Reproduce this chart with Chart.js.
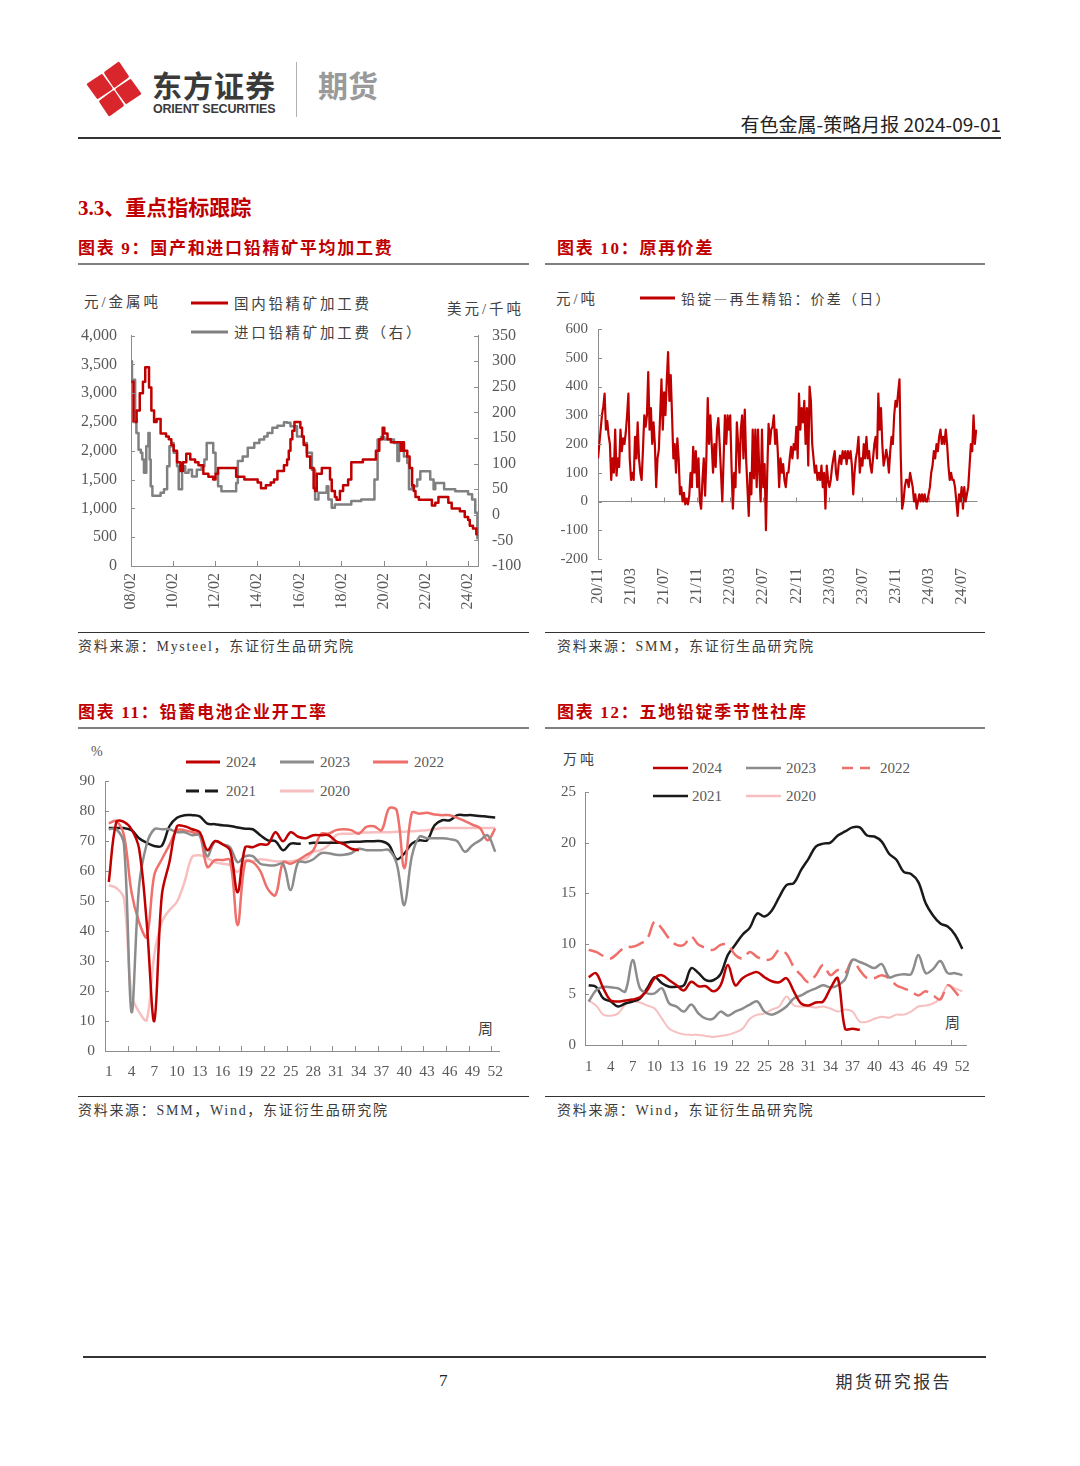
<!DOCTYPE html>
<html lang="zh-CN">
<head>
<meta charset="utf-8">
<title>有色金属-策略月报</title>
<script src="https://cdn.jsdelivr.net/npm/chart.js@4.4.1/dist/chart.umd.min.js"></script>
<style>
  html, body { margin: 0; padding: 0; background: #fff; }
  #page { position: relative; width: 1080px; height: 1466px; overflow: hidden; font-family: "Noto Sans CJK SC", sans-serif; color: #333; }
  #page .t { position: absolute; white-space: nowrap; line-height: 1; }
  #page .hr { position: absolute; height: 0; }
  #page canvas { position: absolute; }
  #page svg { position: absolute; overflow: visible; }
  .red { color: #c00000; font-weight: 700; }
  .ttl { font-family: "Liberation Serif", "Noto Sans CJK SC", serif; font-size: 17px; letter-spacing: 1.7px; }
  .src { font-family: "Liberation Serif", "Noto Sans CJK SC", serif; font-size: 14px; letter-spacing: 1.7px; color: #3a3a3a; }
  .unit { font-family: "Liberation Serif", "Noto Sans CJK SC", serif; font-size: 14.5px; letter-spacing: 3px; color: #404040; }
  .lgc { font-size: 14.5px; letter-spacing: 2.7px; color: #404040; }
  .lgn { font-family: "Liberation Serif", serif; font-size: 15px; color: #595959; }
</style>
</head>
<body>
<div id="page">
  <!-- header -->
  <svg style="left:84px;top:56px" width="62" height="66" viewBox="0 0 62 66">
    <g transform="translate(30,33) rotate(10)" fill="#d9262c" stroke="#d9262c" stroke-width="3" stroke-linejoin="round">
      <polygon points="0,-26 11,-14.5 0,-3 -11,-14.5"/>
      <polygon points="-14.5,-11 -3,0 -14.5,11 -26,0"/>
      <polygon points="14.5,-11 26,0 14.5,11 3,0"/>
      <polygon points="0,3 11,14.5 0,26 -11,14.5"/>
    </g>
  </svg>
  <div class="t" style="left:152px;top:69px;font-size:30px;font-weight:700;color:#3a3a3a;letter-spacing:1px">东方证券</div>
  <div class="t" style="left:153px;top:103px;font-family:'Liberation Sans',sans-serif;font-size:12.5px;font-weight:700;color:#3a3a3a;letter-spacing:-0.2px">ORIENT SECURITIES</div>
  <div class="hr" style="left:296px;top:62px;width:0;height:55px;border-left:1px solid #b0b0b0"></div>
  <div class="t" style="left:318px;top:69px;font-size:30px;font-weight:700;color:#9a9a9a">期货</div>
  <div class="t" style="right:79px;top:114px;font-size:19px;color:#222">有色金属-策略月报 2024-09-01</div>
  <div class="hr" style="left:78px;top:137px;width:923px;border-top:2px solid #333"></div>

  <div class="t red" style="left:78px;top:198px;font-size:21px;font-family:'Liberation Serif','Noto Sans CJK SC',serif">3.3、重点指标跟踪</div>

  <!-- titles row 1 -->
  <div class="t red ttl" style="left:78px;top:240px">图表 9：国产和进口铅精矿平均加工费</div>
  <div class="t red ttl" style="left:557px;top:240px">图表 10：原再价差</div>
  <div class="hr" style="left:78px;top:263px;width:451px;border-top:2px solid #808080"></div>
  <div class="hr" style="left:545px;top:263px;width:440px;border-top:2px solid #808080"></div>

  <!-- chart 9 legend -->
  <div class="t unit" style="left:84px;top:295px">元/金属吨</div>
  <div class="t lgc" style="left:234px;top:296px">国内铅精矿加工费</div>
  <div class="t lgc" style="left:234px;top:325px">进口铅精矿加工费（右）</div>
  <div class="t unit" style="left:447px;top:302px">美元/千吨</div>

  <!-- chart 10 legend -->
  <div class="t unit" style="left:556px;top:292px">元/吨</div>
  <div class="t lgc" style="left:681px;top:291px;font-size:14px;letter-spacing:2.2px">铅锭—再生精铅：价差（日）</div>

  <canvas id="c9" width="470" height="308" style="left:70px;top:312px"></canvas>
  <canvas id="c10" width="445" height="305" style="left:545px;top:310px"></canvas>

  <div class="hr" style="left:78px;top:632px;width:451px;border-top:1px solid #333"></div>
  <div class="hr" style="left:545px;top:632px;width:440px;border-top:1px solid #333"></div>
  <div class="t src" style="left:78px;top:640px">资料来源：Mysteel，东证衍生品研究院</div>
  <div class="t src" style="left:557px;top:640px">资料来源：SMM，东证衍生品研究院</div>

  <!-- titles row 2 -->
  <div class="t red ttl" style="left:78px;top:704px">图表 11：铅蓄电池企业开工率</div>
  <div class="t red ttl" style="left:557px;top:704px">图表 12：五地铅锭季节性社库</div>
  <div class="hr" style="left:78px;top:727px;width:451px;border-top:2px solid #808080"></div>
  <div class="hr" style="left:545px;top:727px;width:440px;border-top:2px solid #808080"></div>

  <!-- chart 11 legend -->
  <div class="t lgn" style="left:91px;top:745px;font-size:14px">%</div>
  <div class="t lgn" style="left:226px;top:755px">2024</div>
  <div class="t lgn" style="left:320px;top:755px">2023</div>
  <div class="t lgn" style="left:414px;top:755px">2022</div>
  <div class="t lgn" style="left:226px;top:784px">2021</div>
  <div class="t lgn" style="left:320px;top:784px">2020</div>
  <div class="t lgc" style="left:478px;top:1020px;font-size:15px">周</div>

  <!-- chart 12 legend -->
  <div class="t unit" style="left:563px;top:753px;font-size:14px">万吨</div>
  <div class="t lgn" style="left:692px;top:761px">2024</div>
  <div class="t lgn" style="left:786px;top:761px">2023</div>
  <div class="t lgn" style="left:880px;top:761px">2022</div>
  <div class="t lgn" style="left:692px;top:789px">2021</div>
  <div class="t lgn" style="left:786px;top:789px">2020</div>
  <div class="t lgc" style="left:945px;top:1014px;font-size:15px">周</div>

  <canvas id="c11" width="465" height="328" style="left:70px;top:762px"></canvas>
  <canvas id="c12" width="445" height="306" style="left:545px;top:774px"></canvas>

  <div class="hr" style="left:78px;top:1096px;width:451px;border-top:1px solid #333"></div>
  <div class="hr" style="left:545px;top:1096px;width:440px;border-top:1px solid #333"></div>
  <div class="t src" style="left:78px;top:1104px">资料来源：SMM，Wind，东证衍生品研究院</div>
  <div class="t src" style="left:557px;top:1104px">资料来源：Wind，东证衍生品研究院</div>

  <!-- footer -->
  <div class="hr" style="left:83px;top:1356px;width:903px;border-top:2px solid #333"></div>
  <div class="t" style="left:439px;top:1372px;font-size:17px;font-family:'Liberation Serif',serif;color:#222">7</div>
  <div class="t" style="right:128px;top:1372px;font-size:17px;letter-spacing:2.4px;color:#333">期货研究报告</div>
</div>

<script>
// ---------- data ----------
// Chart 9: processing fees, stepped series (decimal year of each change, value)
const feeTickLabels = ['08/02', '10/02', '12/02', '14/02', '16/02', '18/02', '20/02', '22/02', '24/02'];
const feeTickYears = [2008, 2010, 2012, 2014, 2016, 2018, 2020, 2022, 2024];

const domYear = [2008.10, 2008.20, 2008.35, 2008.50, 2008.65, 2008.76, 2008.94, 2009.05, 2009.18, 2009.30,
  2009.49, 2009.75, 2009.88, 2010.00, 2010.11, 2010.27, 2010.43, 2010.55, 2010.71, 2010.90,
  2011.13, 2011.29, 2011.52, 2011.76, 2011.99, 2012.10, 2012.22, 2013.08, 2013.47, 2013.71,
  2014.10, 2014.26, 2014.49, 2014.72, 2014.88, 2015.04, 2015.35, 2015.50, 2015.58, 2015.66,
  2015.75, 2015.85, 2016.13, 2016.21, 2016.29, 2016.44, 2016.60, 2016.76, 2016.83, 2016.91,
  2017.15, 2017.54, 2017.62, 2017.77, 2017.85, 2018.01, 2018.16, 2018.40, 2018.55, 2019.10,
  2019.72, 2019.88, 2020.04, 2020.12, 2020.27, 2020.43, 2020.90, 2020.97, 2021.05, 2021.21,
  2021.32, 2021.44, 2021.52, 2021.60, 2021.76, 2022.38, 2022.54, 2022.69, 2023.16, 2023.32,
  2023.71, 2023.94, 2024.10, 2024.18, 2024.33, 2024.49, 2024.55];
const domFee = [3200, 2500, 2700, 3000, 3200, 3450, 3100, 2700, 2500, 2550,
  2300, 2250, 2200, 2100, 2000, 1800, 1650, 1800, 1950, 1850,
  1800, 1750, 1600, 1550, 1500, 1600, 1700, 1550, 1500, 1500,
  1450, 1350, 1400, 1450, 1500, 1650, 1750, 1850, 2000, 2200,
  2350, 2500, 2400, 2250, 2100, 1900, 1700, 1350, 1300, 1600,
  1700, 1500, 1300, 1200, 1150, 1300, 1400, 1500, 1800, 1850,
  2000, 2200, 2400, 2300, 2200, 2150, 2000, 2150, 2000, 1900,
  1700, 1400, 1300, 1200, 1150, 1050, 1100, 1200, 1100, 1000,
  950, 850, 800, 700, 650, 550, 550];

const impYear = [2008.08, 2008.13, 2008.28, 2008.34, 2008.44, 2008.55, 2008.62, 2008.70, 2008.81, 2008.91,
  2008.97, 2009.02, 2009.10, 2009.49, 2009.65, 2009.80, 2009.91, 2010.04, 2010.11, 2010.27,
  2010.35, 2010.51, 2010.66, 2010.82, 2010.98, 2011.21, 2011.44, 2011.57, 2011.68, 2011.99,
  2012.10, 2012.22, 2012.38, 2013.08, 2013.16, 2013.39, 2013.63, 2013.94, 2014.18, 2014.41,
  2014.57, 2014.80, 2015.04, 2015.35, 2015.50, 2015.66, 2015.97, 2016.29, 2016.44, 2016.68,
  2016.83, 2016.99, 2017.38, 2017.46, 2017.62, 2017.77, 2018.55, 2019.02, 2019.65, 2019.80,
  2019.96, 2020.12, 2020.58, 2020.74, 2020.82, 2021.05, 2021.21, 2021.29, 2021.44, 2021.68,
  2021.83, 2022.30, 2022.46, 2022.54, 2022.96, 2023.49, 2024.10, 2024.29, 2024.44, 2024.54];
const impFee = [300, 264, 186, 160, 127, 121, 108, 82, 134, 160,
  108, 56, 37, 43, 50, 95, 134, 140, 121, 95,
  50, 95, 82, 88, 75, 88, 95, 108, 140, 121,
  82, 56, 46, 62, 105, 114, 131, 140, 147, 153,
  160, 170, 174, 181, 180, 173, 153, 140, 121, 88,
  30, 43, 56, 30, 14, 20, 27, 30, 69, 147,
  152, 147, 140, 105, 140, 114, 101, 50, 56, 69,
  85, 69, 50, 62, 50, 46, 40, 30, 4, -48];

// Chart 10: daily spread, samples evenly spaced (25 per 4-month tick)
const spreadTickLabels = ['20/11', '21/03', '21/07', '21/11', '22/03', '22/07', '22/11', '23/03', '23/07', '23/11', '24/03', '24/07'];
const spreadValues = [
  150, 200, 250, 300, 330, 375, 250, 280, 230, 200, 75, 150, 100, 250, 90, 150, 120, 250, 175, 220, 200, 240, 300, 375, 150,
  75, 100, 75, 225, 150, 275, 150, 100, 75, 180, 300, 260, 300, 450, 250, 325, 200, 275, 200, 50, 150, 180, 300, 425, 250,
  380, 300, 420, 520, 350, 440, 300, 150, 200, 100, 220, 150, 25, 50, 0, 30, -10, 10, -10, 20, 100, 50, 190, 100, 175,
  50, 150, 0, -25, 75, 150, 20, 160, 360, 200, 300, 200, 100, 200, 120, 250, 290, 200, 100, 0, 150, 300, 200, 300, 250,
  300, 120, -25, 100, 50, 275, 200, 100, 250, 300, 150, 320, 150, 50, -50, 100, 25, 250, 80, 250, 50, 250, 100, 0, 250,
  50, 130, -100, 100, 270, 200, 250, 260, 300, 200, 250, 170, 50, 150, 100, 130, 75, 50, 100, 100, 150, 190, 150, 200, 180,
  260, 150, 375, 250, 325, 275, 350, 200, 325, 125, 400, 350, 200, 150, 100, 125, 75, 100, 75, 125, 50, 100, -25, 125, 75,
  50, 75, 120, 150, 175, 100, 75, 130, 160, 130, 175, 150, 175, 130, 175, 150, 175, 125, 25, 100, 150, 175, 225, 100, 150,
  125, 200, 150, 225, 150, 175, 125, 100, 150, 200, 225, 150, 375, 250, 325, 200, 125, 150, 180, 150, 100, 175, 225, 200, 300,
  350, 330, 380, 425, 150, -25, 0, 50, 75, 75, 50, 100, 75, 50, 0, 25, -25, 0, 25, 0, 25, 0, 25, 0, 0,
  25, 50, 100, 125, 175, 150, 200, 175, 225, 250, 200, 225, 200, 250, 200, 125, 75, 100, 75, 75, 50, 0, -50, 25, 0,
  50, -25, 50, 0, 25, 50, 125, 200, 175, 300, 200, 250
];

// Charts 11 & 12: weekly seasonal series
const weeks = Array.from({ length: 52 }, (_, i) => String(i + 1));

const rate2024 = [56.4, 76.5, 76.5, 74, 67.5, 43, 10, 52, 63, 75, 75, 74, 73, 67, 70, 69, 67, 53, 68, 68,
  69, 69, 73, 70, 73, 71.5, 71, 72, 72, 72, 70, 69, 67.5, 67];
const rate2023 = [74, 74, 69, 13, 55, 69, 74, 74, 74, 73, 73, 72, 72, 65, 70, 69, 68, 63, 65, 65,
  62.5, 62, 62, 62.5, 53.7, 63, 63, 64, 66, 66, 65.5, 65.5, 66, 67.5, 67, 67, 67, 67, 62.5, 48.7,
  65, 71.5, 71, 71, 71, 70.7, 70, 66.5, 68.7, 70.3, 72, 66.5];
const rate2022 = [76, 76.7, 72, 53, 43, 38, 58.7, 64, 68.7, 73.7, 73.7, 73, 72, 61.4, 63.7, 63.7, 63.7, 42, 63, 63,
  60, 54, 52, 63, 62.5, 63.7, 65.3, 67, 72.5, 72.5, 73.7, 74, 73.7, 72.5, 74.8, 75, 73.7, 81, 80.3, 61,
  79.5, 79.2, 79.5, 78.9, 78.7, 78.7, 77.8, 76.7, 75.5, 74.4, 70.3, 74.2];
const rate2021 = [74.4, 74.4, 74.4, 73.7, 71, 69.5, 68.4, 68.5, 75, 77.8, 78.7, 78.7, 78.3, 75.9, 75.7, 75.3, 75.1, 74.6, 74.2, 74,
  72, 70.3, 70, 67, 69.2, 69.2, 69.2, 69.5, 69.5, 69.5, 69.5, 69.5, 69.8, 69.8, 70, 70, 70, 68.7, 64, 65.9,
  69.2, 70.3, 70.3, 75.3, 77, 77, 78.7, 78.7, 78.7, 78.4, 78.2, 77.9];
const rate2020 = [55.3, 54.4, 51, 18.7, 13, 10.3, 32, 43, 47, 49.8, 56.4, 64.8, 65.3, 64.4, 63, 62.5, 62, 59.8, 63.7, 63.3,
  64, 63.7, 63.3, 63.3, 63.3, 63.7, 64.2, 66.4, 67, 68.7, 72, 72.5, 72.5, 72.9, 72.9, 73, 73, 73, 73.2, 73.2,
  73.3, 73.5, 73.7, 74, 74.4, 74.4, 74.4, 74.4, 74.4, 74.4, 74.4, 74.4];

const stock2024 = [6.7, 7.1, 5.6, 4.4, 4.3, 4.4, 4.5, 4.7, 5.4, 6.6, 6.9, 6.4, 5.9, 5.4, 6.25, 5.8, 5.8, 5.3, 5.9, 7.9,
  5.9, 6.6, 7.0, 7.2, 6.7, 6.3, 6.2, 6.6, 5.3, 4.1, 3.9, 4.2, 4.3, 5.6, 6.6, 1.6, 1.6, 1.5];
const stock2023 = [4.3, 5.4, 5.75, 5.7, 5.6, 5.3, 8.4, 5.6, 5.1, 5.1, 5.6, 4.1, 3.8, 3.3, 4.0, 3.1, 2.6, 2.6, 3.3, 2.9,
  3.3, 3.6, 4.0, 4.3, 3.3, 3.0, 3.3, 3.8, 4.6, 4.9, 5.3, 5.6, 5.9, 5.7, 5.9, 6.5, 8.4, 8.2, 7.9, 7.6,
  8.0, 6.7, 6.9, 7.0, 7.0, 8.9, 7.1, 7.5, 8.3, 7.1, 7.1, 6.9];
const stock2022 = [9.4, 9.2, 8.8, 8.55, 9.1, 9.7, 9.7, 10.0, 10.5, 12.2, 11.5, 10.5, 9.9, 9.9, 10.7, 9.9, 9.6, 9.4, 9.9, 9.9,
  8.9, 8.55, 9.2, 8.7, 8.4, 8.55, 9.4, 9.0, 7.7, 6.9, 6.2, 6.9, 7.9, 6.9, 7.4, 7.1, 8.4, 7.4, 6.6, 6.6,
  6.9, 6.6, 5.9, 5.6, 5.3, 4.9, 5.3, 4.9, 4.5, 5.9, 5.3, 4.3];
const stock2021 = [5.9, 5.75, 4.6, 4.3, 3.8, 4.1, 4.3, 4.6, 5.6, 6.7, 6.1, 5.75, 5.75, 5.9, 7.6, 7.1, 6.4, 6.4, 7.0, 8.9,
  9.9, 10.9, 11.6, 13.0, 12.7, 13.3, 14.6, 15.8, 16.0, 17.3, 18.4, 19.6, 19.9, 20.0, 20.7, 21.1, 21.5, 21.5, 20.7, 20.6,
  20.1, 18.9, 18.3, 17.1, 16.9, 16.1, 14.0, 12.8, 12.0, 11.7, 10.9, 9.5];
const stock2020 = [4.4, 3.9, 3.0, 2.9, 3.1, 4.0, 4.3, 4.2, 3.9, 3.6, 2.6, 1.6, 1.25, 1.05, 1.0, 1.0, 0.9, 0.8, 0.9, 1.0,
  1.25, 1.6, 2.6, 3.0, 3.1, 3.5, 3.8, 4.8, 3.9, 3.8, 3.8, 3.7, 3.8, 3.6, 3.3, 3.5, 3.3, 2.3, 2.3, 2.6,
  2.8, 2.7, 3.0, 3.0, 3.3, 3.8, 3.9, 4.1, 4.6, 5.9, 5.6, 5.3];

// ---------- styles ----------
const RED = '#c00000', GRAY = '#8c8c8c', SALMON = '#ef6f6b', BLACK = '#1a1a1a', PINK = '#f7bfbf';
const AXIS = '#8c8c8c', TICK = '#595959';
const SERIF = '"Liberation Serif", "DejaVu Serif", serif';

// inside tick marks per canvas, placed through each chart's own scales
const marksFor = {
  c9: [{ axis: 'x', len: 5, at: feeTickYears.slice(1).map(y => y + 1 / 12) }, { axis: 'y', len: 4 }, { axis: 'y1', len: 4 }],
  c10: [{ axis: 'x', len: 5, zero: true, at: spreadTickLabels.slice(1).map((_, k) => (k + 1) * 25) }, { axis: 'y', len: 4 }],
  c11: [{ axis: 'x', len: 5, at: Array.from({ length: 17 }, (_, k) => 2.5 + 3 * k) }, { axis: 'y', len: 4 }],
  c12: [{ axis: 'x', len: 5, at: Array.from({ length: 10 }, (_, k) => 4.5 + 5 * k) }, { axis: 'y', len: 4 }]
};
const tickMarks = {
  id: 'tickMarks',
  afterDraw(chart) {
    const marks = marksFor[chart.canvas.id];
    if (!marks) return;
    const { ctx, chartArea: a } = chart;
    ctx.save();
    ctx.strokeStyle = AXIS;
    ctx.lineWidth = 1;
    marks.forEach(m => {
      const s = chart.scales[m.axis];
      const vals = m.at ? m.at : s.ticks.map(t => t.value);
      vals.forEach(v => {
        const p = Math.round(s.getPixelForValue(v)) + 0.5;
        ctx.beginPath();
        if (s.isHorizontal()) {
          const base = m.zero ? Math.round(chart.scales.y.getPixelForValue(0)) + 0.5 : a.bottom;
          ctx.moveTo(p, base); ctx.lineTo(p, base - m.len);
        } else if (s.position === 'right') {
          ctx.moveTo(a.right, p); ctx.lineTo(a.right - m.len, p);
        } else {
          ctx.moveTo(a.left, p); ctx.lineTo(a.left + m.len, p);
        }
        ctx.stroke();
      });
    });
    ctx.restore();
  }
};
Chart.register(tickMarks);

// legend swatches drawn as small svg lines
function swatch(x1, x2, y, color, dash, w) {
  const ns = 'http://www.w3.org/2000/svg';
  const svg = document.createElementNS(ns, 'svg');
  svg.setAttribute('width', x2 - x1);
  svg.setAttribute('height', 6);
  svg.style.left = x1 + 'px';
  svg.style.top = (y - 3) + 'px';
  const ln = document.createElementNS(ns, 'line');
  ln.setAttribute('x1', 0); ln.setAttribute('x2', x2 - x1);
  ln.setAttribute('y1', 3); ln.setAttribute('y2', 3);
  ln.setAttribute('stroke', color);
  ln.setAttribute('stroke-width', w || 3);
  if (dash) ln.setAttribute('stroke-dasharray', dash);
  svg.appendChild(ln);
  document.getElementById('page').appendChild(svg);
}
swatch(191, 228, 303, RED); swatch(191, 228, 332, '#808080');
swatch(640, 675, 298, RED);
swatch(186, 220, 762, RED); swatch(280, 314, 762, GRAY); swatch(373, 408, 762, SALMON);
swatch(186, 220, 791, BLACK, '13 6'); swatch(280, 314, 791, PINK);
swatch(653, 688, 768, RED, null, 2.5); swatch(746, 781, 768, GRAY, null, 2.5); swatch(842, 870, 768, SALMON, '11 7', 2.5);
swatch(653, 688, 796, BLACK, null, 2.5); swatch(746, 781, 796, PINK, null, 2.5);

const base = {
  responsive: false, animation: false, devicePixelRatio: 1, events: [],
  elements: { point: { radius: 0 }, line: { borderJoinStyle: 'round' } }
};
const hidden = { legend: { display: false }, tooltip: { enabled: false } };
const axisLine = { display: true, color: AXIS, width: 1 };
const noGrid = { display: true, drawOnChartArea: false, drawTicks: false };
const pairs = (xs, ys) => xs.map((x, i) => ({ x, y: ys[i] }));

// ---------- chart 9 ----------
new Chart(document.getElementById('c9'), {
  type: 'line',
  data: {
    datasets: [
      { data: pairs(domYear, domFee), borderColor: RED, borderWidth: 2.5, stepped: true, yAxisID: 'y' },
      { data: pairs(impYear, impFee), borderColor: '#808080', borderWidth: 2.5, stepped: true, yAxisID: 'y1' }
    ]
  },
  options: {
    ...base,
    layout: { padding: { top: 16 } },
    plugins: hidden,
    scales: {
      x: {
        type: 'linear', min: 2008 + 1 / 12, max: 2024.57,
        afterBuildTicks: s => { s.ticks = feeTickYears.map(y => ({ value: y + 1 / 12 })); },
        ticks: { callback: (v, i) => feeTickLabels[i], minRotation: 90, maxRotation: 90, padding: 7, color: TICK, font: { family: SERIF, size: 16 } },
        grid: noGrid, border: axisLine,
        afterFit: s => { s.height = 54; }
      },
      y: {
        min: 0, max: 4000,
        ticks: { stepSize: 500, padding: 14, color: TICK, font: { family: SERIF, size: 16 } },
        grid: noGrid, border: axisLine,
        afterFit: s => { s.width = 61; }
      },
      y1: {
        position: 'right', min: -100, max: 350,
        ticks: { stepSize: 50, padding: 14, color: TICK, font: { family: SERIF, size: 16 } },
        grid: noGrid, border: axisLine,
        afterFit: s => { s.width = 62; }
      }
    }
  }
});

// ---------- chart 10 ----------
new Chart(document.getElementById('c10'), {
  type: 'line',
  data: { datasets: [{ data: spreadValues.map((v, i) => ({ x: i, y: v })), borderColor: RED, borderWidth: 2.2, tension: 0 }] },
  options: {
    ...base,
    layout: { padding: { top: 9, right: 4 } },
    plugins: hidden,
    scales: {
      x: {
        type: 'linear', min: 0, max: spreadValues.length,
        afterBuildTicks: s => { s.ticks = spreadTickLabels.map((_, k) => ({ value: k * 25 })); },
        ticks: { callback: (v, i) => spreadTickLabels[i], minRotation: 90, maxRotation: 90, padding: 9, color: TICK, font: { family: SERIF, size: 16 } },
        grid: noGrid, border: { display: false },
        afterFit: s => { s.height = 56; }
      },
      y: {
        min: -200, max: 600,
        ticks: { stepSize: 100, padding: 10, color: TICK, font: { family: SERIF, size: 15 } },
        grid: { display: true, drawOnChartArea: true, drawTicks: false, lineWidth: 1,
          color: c => (c.tick && c.tick.value === 0 ? AXIS : 'rgba(0,0,0,0)') },
        border: axisLine,
        afterFit: s => { s.width = 53; }
      }
    }
  }
});

// ---------- chart 11 ----------
const weekLine = (data, color, extra) => Object.assign({ data, borderColor: color, borderWidth: 2.5, tension: 0.35 }, extra || {});
new Chart(document.getElementById('c11'), {
  type: 'line',
  data: {
    labels: weeks,
    datasets: [
      weekLine(rate2024, RED),
      weekLine(rate2023, GRAY),
      weekLine(rate2022, SALMON),
      weekLine(rate2021, BLACK, { borderDash: [230, 8] }),
      weekLine(rate2020, PINK)
    ]
  },
  options: {
    ...base,
    layout: { padding: { top: 11, right: 36 } },
    plugins: hidden,
    scales: {
      x: {
        offset: true,
        ticks: { autoSkip: false, maxRotation: 0, callback: (v, i) => (i % 3 === 0 ? weeks[i] : ''), padding: 12, color: TICK, font: { family: SERIF, size: 15.5 } },
        grid: { ...noGrid, offset: true }, border: axisLine,
        afterFit: s => { s.height = 39; }
      },
      y: {
        min: 0, max: 90,
        ticks: { stepSize: 10, padding: 10, color: TICK, font: { family: SERIF, size: 15.5 } },
        grid: noGrid, border: axisLine,
        afterFit: s => { s.width = 35; }
      }
    }
  }
});

// ---------- chart 12 ----------
new Chart(document.getElementById('c12'), {
  type: 'line',
  data: {
    labels: weeks,
    datasets: [
      weekLine(stock2024, RED),
      weekLine(stock2023, GRAY),
      weekLine(stock2022, SALMON, { borderDash: [16, 7] }),
      weekLine(stock2021, BLACK),
      weekLine(stock2020, PINK, { borderWidth: 2 })
    ]
  },
  options: {
    ...base,
    layout: { padding: { top: 12, right: 24 } },
    plugins: hidden,
    scales: {
      x: {
        offset: true,
        ticks: { autoSkip: false, maxRotation: 0, callback: (v, i) => (i % 3 === 0 ? weeks[i] : ''), padding: 13, color: TICK, font: { family: SERIF, size: 15 } },
        grid: { ...noGrid, offset: true }, border: axisLine,
        afterFit: s => { s.height = 35; }
      },
      y: {
        min: 0, max: 25,
        ticks: { stepSize: 5, padding: 9, color: TICK, font: { family: SERIF, size: 15 } },
        grid: noGrid, border: axisLine,
        afterFit: s => { s.width = 40; }
      }
    }
  }
});
</script>
</body>
</html>
